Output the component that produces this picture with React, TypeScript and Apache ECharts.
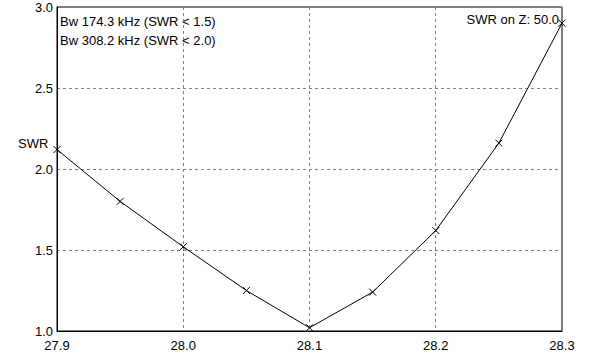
import React, { useEffect, useRef } from "react";
import * as echarts from "echarts";

const freqs = [27.9, 27.95, 28.0, 28.05, 28.1, 28.15, 28.2, 28.25, 28.3];
const swr = [2.12, 1.8, 1.52, 1.25, 1.02, 1.24, 1.62, 2.16, 2.9];
const infoLines = ["Bw 174.3 kHz (SWR < 1.5)", "Bw 308.2 kHz (SWR < 2.0)"];
const zText = "SWR on Z: 50.0";
const yName = "SWR";

const FONT = "'Liberation Sans', Arial, sans-serif";

export default function App() {
  const ref = useRef<HTMLDivElement>(null);
  useEffect(() => {
    if (!ref.current) return;
    const chart = echarts.init(ref.current, null, { renderer: "svg" });
    chart.setOption({
      animation: false,
      backgroundColor: "#ffffff",
      textStyle: { fontFamily: FONT },
      grid: {
        left: 57,
        right: 52,
        top: 7,
        bottom: 25,
        show: true,
        borderColor: "#000",
        borderWidth: 1,
        backgroundColor: "transparent",
      },
      xAxis: {
        type: "value",
        min: 27.9,
        max: 28.3,
        interval: 0.1,
        axisLine: { show: true, lineStyle: { color: "#000", width: 1 } },
        axisTick: { show: false },
        splitLine: {
          show: true,
          lineStyle: { color: "#808080", type: [3, 3], width: 1 },
        },
        axisLabel: {
          color: "#000",
          fontSize: 13,
          fontFamily: FONT,
          margin: 8,
          formatter: (v: number) => v.toFixed(1),
        },
      },
      yAxis: {
        type: "value",
        min: 1,
        max: 3,
        interval: 0.5,
        axisLine: { show: true, lineStyle: { color: "#000", width: 1 } },
        axisTick: { show: false },
        splitLine: {
          show: true,
          lineStyle: { color: "#808080", type: [3, 3], width: 1 },
        },
        axisLabel: {
          color: "#000",
          fontSize: 13,
          fontFamily: FONT,
          margin: 4,
          formatter: (v: number) => v.toFixed(1),
        },
      },
      graphic: [
        {
          type: "text",
          left: 60,
          top: 12,
          style: {
            text: infoLines.join("\n"),
            fill: "#000",
            font: `13px ${FONT}`,
            lineHeight: 19,
          },
        },
        {
          type: "text",
          right: 55,
          top: 13,
          style: { text: zText, fill: "#000", font: `13px ${FONT}` },
        },
        {
          type: "text",
          left: 18,
          top: 137,
          style: { text: yName, fill: "#000", font: `13px ${FONT}` },
        },
      ],
      series: [
        {
          type: "line",
          data: freqs.map((f, i) => [f, swr[i]]),
          lineStyle: { color: "#000", width: 1 },
          symbol: "path://M0,0L10,10M10,0L0,10",
          symbolSize: 7,
          showSymbol: true,
          itemStyle: { color: "none", borderColor: "#000", borderWidth: 1 },
          emphasis: { disabled: true },
        },
      ],
    });
    return () => chart.dispose();
  }, []);
  return (
    <div
      ref={ref}
      style={{ position: "fixed", left: 0, top: 0, width: 614, height: 356 }}
    />
  );
}
